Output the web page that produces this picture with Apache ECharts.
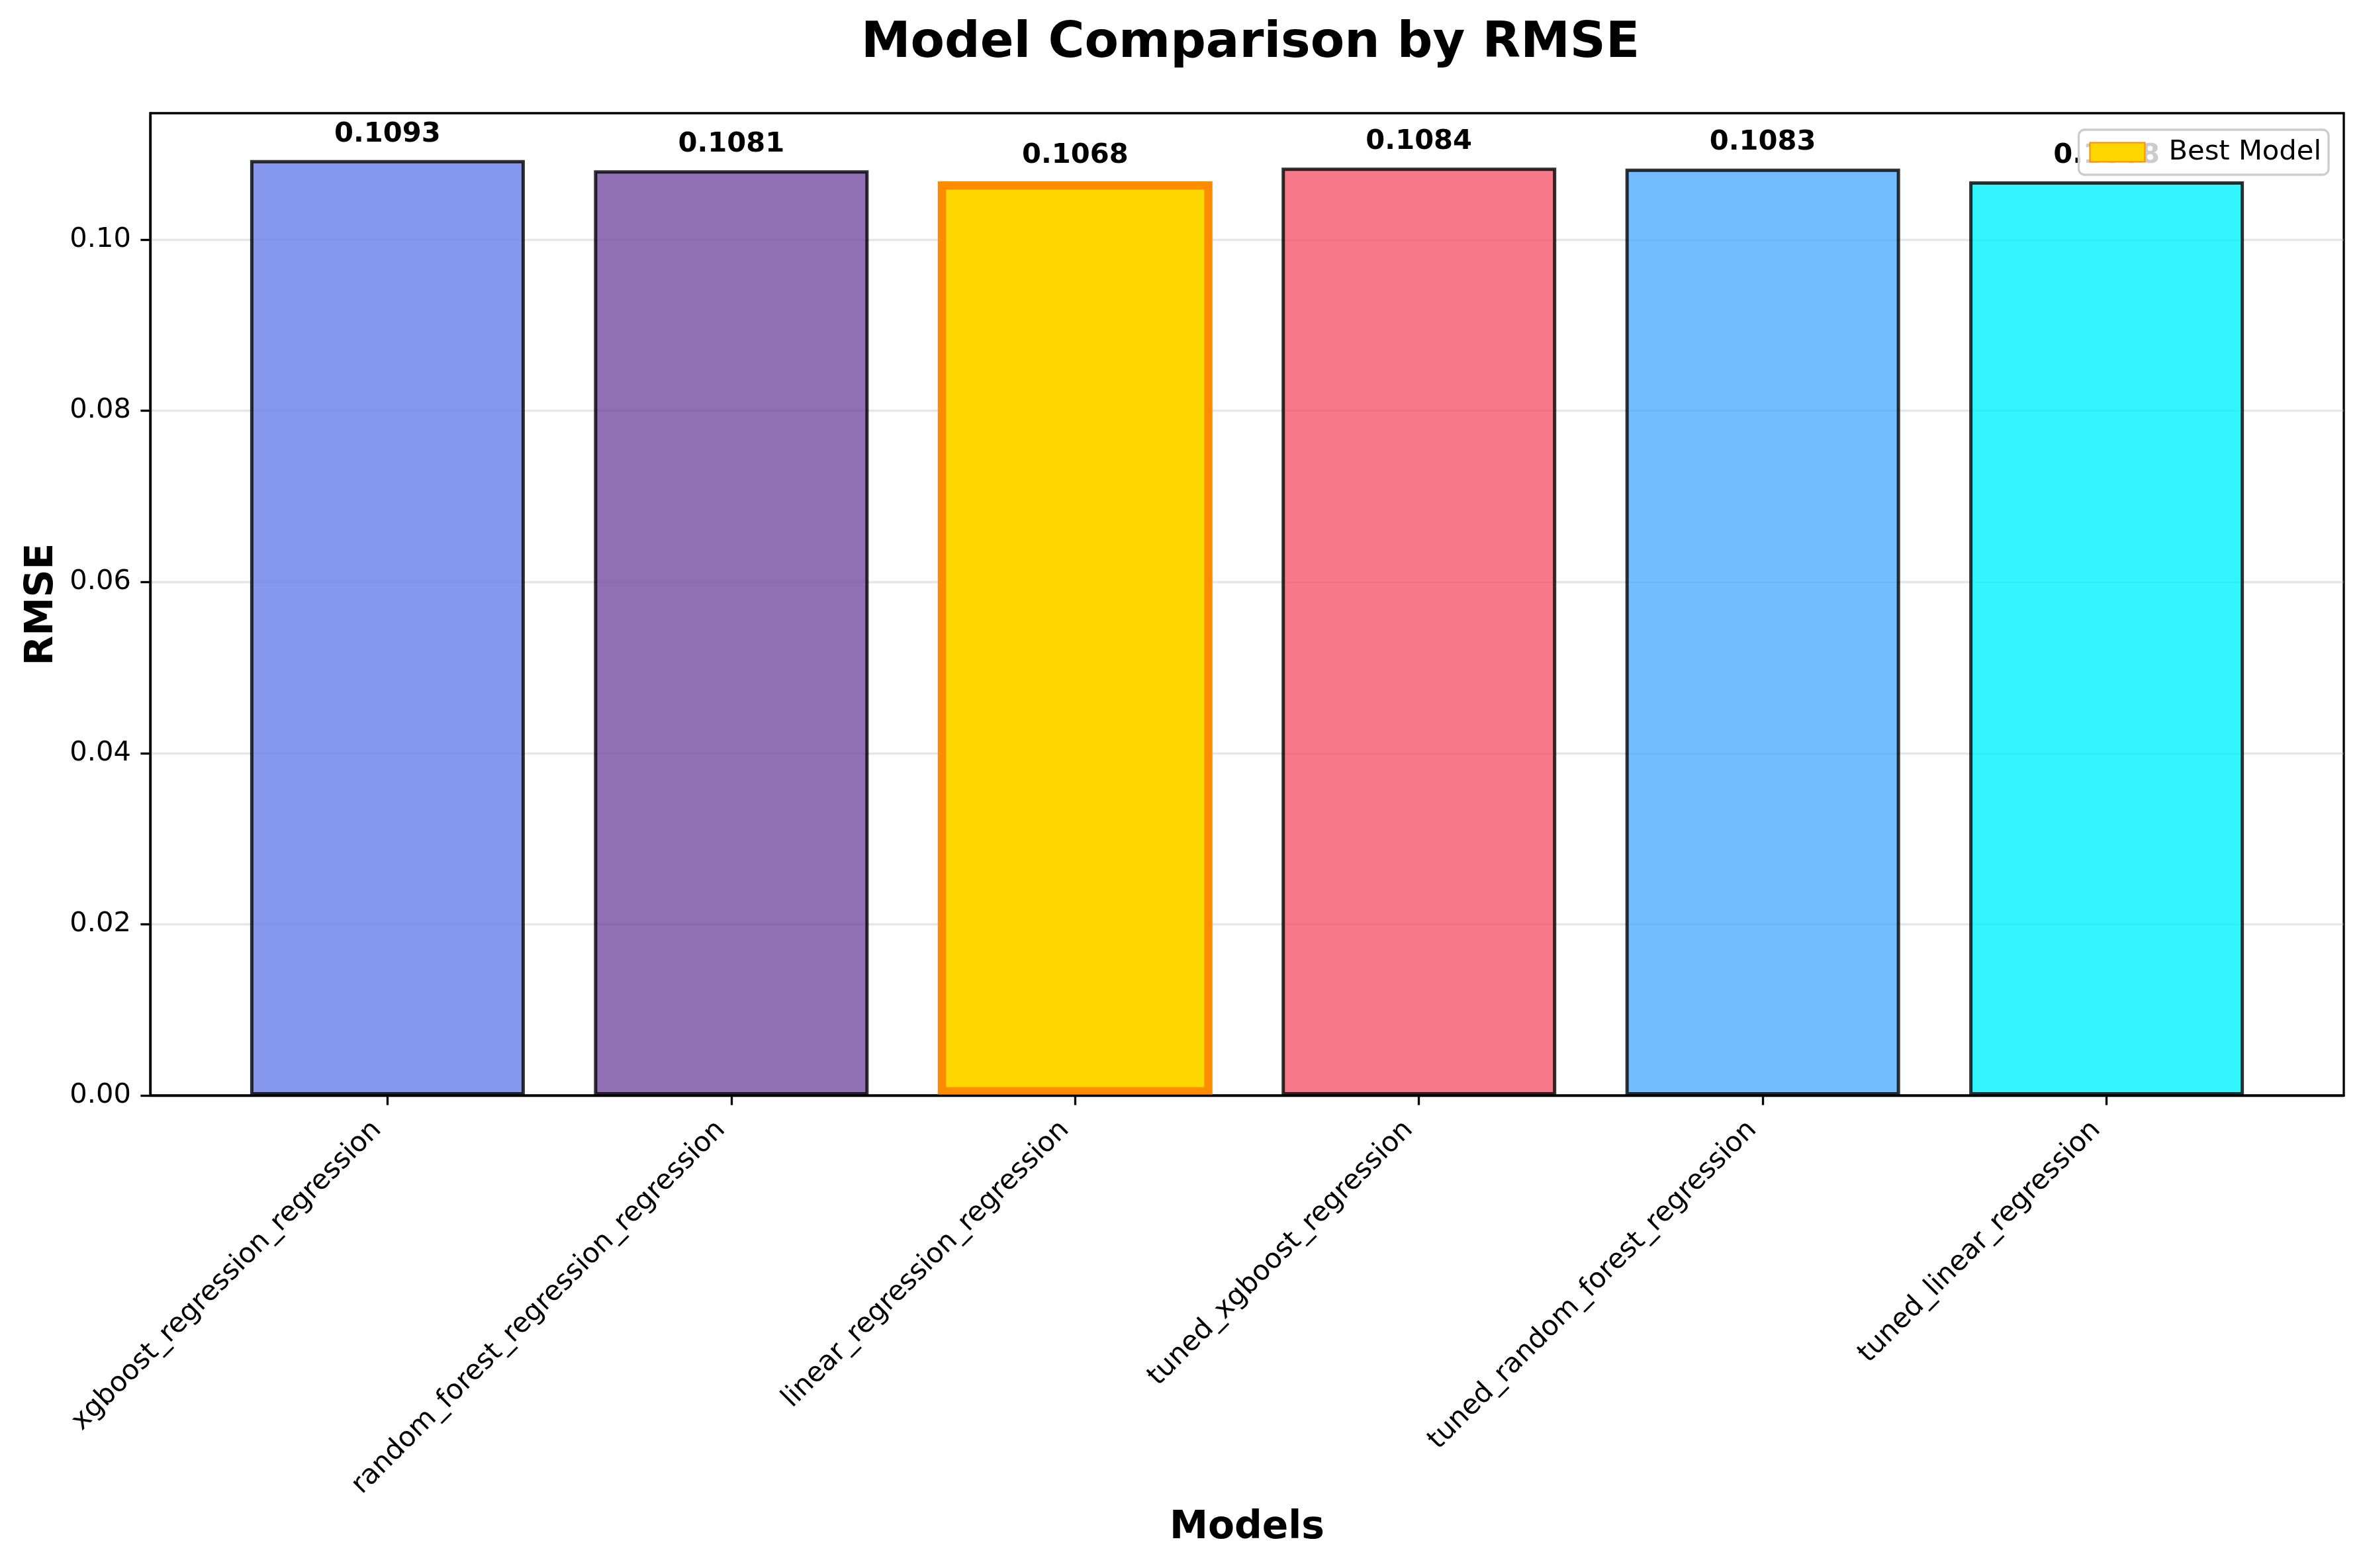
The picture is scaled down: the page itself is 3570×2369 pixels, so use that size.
<!DOCTYPE html>
<html>
<head>
<meta charset="utf-8">
<title>Model Comparison by RMSE</title>
<script src="https://cdn.jsdelivr.net/npm/echarts@6/dist/echarts.min.js"></script>
<style>
  html, body { margin: 0; padding: 0; background: #fff; }
  #chart { width: 3570px; height: 2369px; }
</style>
</head>
<body>
<div id="chart"></div>
<script>
// data
const models = [
  'xgboost_regression_regression',
  'random_forest_regression_regression',
  'linear_regression_regression',
  'tuned_xgboost_regression',
  'tuned_random_forest_regression',
  'tuned_linear_regression'
];
const rmse = [0.1093, 0.1081, 0.1068, 0.1084, 0.1083, 0.1068];
// bar colours (drawn at 80% alpha like the original)
const barColors = [
  'rgba(102,126,234,0.8)',
  'rgba(118,75,162,0.8)',
  'rgba(240,147,251,0.8)',
  'rgba(245,87,108,0.8)',
  'rgba(79,172,254,0.8)',
  'rgba(0,242,254,0.8)'
];
const yTicks = [0, 0.02, 0.04, 0.06, 0.08, 0.10];

const bestIndex = rmse.indexOf(Math.min(...rmse));
const font = 'DejaVu Sans';
const pt = 300 / 72; // px per point

const chart = echarts.init(document.getElementById('chart'));

const barData = rmse.map((v, i) => {
  const best = i === bestIndex;
  return {
    value: [i, v],
    itemStyle: best
      ? { color: '#FFD700', borderColor: '#FF8C00', borderWidth: 3 * pt }
      : { color: barColors[i], borderColor: 'rgba(0,0,0,0.8)', borderWidth: 1.2 * pt }
  };
});

const option = {
  backgroundColor: '#fff',
  animation: false,
  textStyle: { fontFamily: font },
  title: {
    text: 'Model Comparison by RMSE',
    left: 1884,
    top: 24,
    textAlign: 'center',
    textStyle: { fontFamily: font, fontSize: 18 * pt, fontWeight: 'bold', color: '#000' }
  },
  legend: {
    data: ['Best Model'],
    right: 52,
    top: 196,
    icon: 'rect',
    itemWidth: 83,
    itemHeight: 29,
    padding: [13, 11, 13, 16],
    backgroundColor: 'rgba(255,255,255,0.8)',
    borderColor: '#cccccc',
    borderWidth: 3.3,
    borderRadius: 9,
    textStyle: { fontFamily: font, fontSize: 10 * pt, color: '#000', padding: [0, 0, 0, 31] }
  },
  grid: {
    left: 227,
    right: 29,
    top: 171,
    bottom: 714,
    show: true,
    borderColor: '#000',
    borderWidth: 0.8 * pt,
    backgroundColor: 'transparent'
  },
  xAxis: {
    type: 'value',
    min: -0.69,
    max: 5.69,
    z: 3,
    name: 'Models',
    nameLocation: 'middle',
    nameGap: 625,
    nameTextStyle: { fontFamily: font, fontSize: 14 * pt, fontWeight: 'bold', color: '#000' },
    axisLine: { show: true, onZero: false, lineStyle: { color: '#000', width: 0.8 * pt } },
    axisTick: {
      show: true,
      customValues: models.map((m, i) => i),
      length: 3.5 * pt,
      lineStyle: { color: '#000', width: 0.8 * pt }
    },
    axisLabel: {
      customValues: models.map((m, i) => i),
      formatter: v => models[Math.round(v)],
      rotate: 45,
      margin: 30,
      padding: [0, 22, 0, 0],
      fontFamily: font,
      fontSize: 10 * pt,
      color: '#000'
    },
    splitLine: { show: false }
  },
  yAxis: {
    type: 'value',
    min: 0,
    max: 0.11477,
    name: 'RMSE',
    nameLocation: 'middle',
    nameGap: 134,
    nameTextStyle: { fontFamily: font, fontSize: 14 * pt, fontWeight: 'bold', color: '#000' },
    axisLine: { show: true, onZero: false, lineStyle: { color: '#000', width: 0.8 * pt } },
    axisTick: {
      show: true,
      customValues: yTicks,
      length: 3.5 * pt,
      lineStyle: { color: '#000', width: 0.8 * pt }
    },
    axisLabel: {
      customValues: yTicks,
      formatter: v => v.toFixed(2),
      margin: 29,
      fontFamily: font,
      fontSize: 10 * pt,
      color: '#000'
    },
    splitLine: {
      show: true,
      lineStyle: { color: '#b0b0b0', opacity: 0.3, width: 0.8 * pt }
    }
  },
  series: [
    {
      name: 'RMSE',
      type: 'bar',
      barWidth: 415,
      barGap: '-100%',
      data: barData,
      label: {
        show: true,
        position: 'top',
        distance: 18,
        formatter: p => p.value[1].toFixed(4),
        fontFamily: font,
        fontSize: 10 * pt,
        fontWeight: 'bold',
        color: '#000'
      }
    },
    {
      name: 'Best Model',
      type: 'bar',
      barWidth: 415,
      barGap: '-100%',
      data: [],
      itemStyle: { color: '#FFD700', borderColor: '#FF8C00', borderWidth: 1 * pt }
    }
  ]
};

chart.setOption(option);
</script>
</body>
</html>
